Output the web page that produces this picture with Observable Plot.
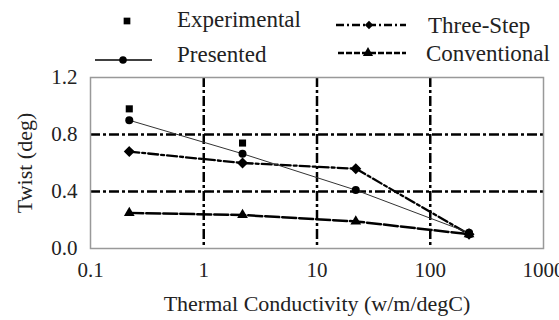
<!DOCTYPE html>
<html><head><meta charset="utf-8">
<script src="https://cdn.jsdelivr.net/npm/d3@7"></script>
<script src="https://cdn.jsdelivr.net/npm/@observablehq/plot@0.6"></script>
<style>
body{margin:0;background:#fff;}
#wrap{position:relative;width:559px;height:320px;}
#legend{position:absolute;left:0;top:0;}
</style></head><body>
<div id="wrap"><div id="chart"></div><svg id="legend" width="559" height="70"></svg></div>
<script>
const FONT = "Liberation Serif";
const conductivity = [0.22, 2.2, 22, 220];
const expConductivity = [0.22, 2.2, 220];
const experimental = [0.98, 0.74, 0.10];
const presented = [0.90, 0.665, 0.41, 0.11];
const threeStep = [0.68, 0.60, 0.56, 0.10];
const conventional = [0.25, 0.235, 0.19, 0.10];
const xTicks = [0.1, 1, 10, 100, 1000];
const yTicks = [0, 0.4, 0.8, 1.2];
const xGrid = [1, 10, 100];
const yGrid = [0.4, 0.8];
const seriesNames = ["Experimental", "Three-Step", "Presented", "Conventional"];

const mk = (vals, xs) => vals.map((v, i) => ({x: xs[i], y: v}));
const exp = mk(experimental, expConductivity);
const pre = mk(presented, conductivity);
const thr = mk(threeStep, conductivity);
const con = mk(conventional, conductivity);

const chart = Plot.plot({
  width: 559, height: 320,
  marginLeft: 90, marginRight: 16, marginTop: 77, marginBottom: 72,
  style: {fontFamily: FONT, fontSize: "21px", color: "#222", background: "#fff"},
  x: {type: "log", domain: [0.1, 1000]},
  y: {domain: [0, 1.2]},
  marks: [
    Plot.ruleX(xGrid, {stroke: "#000", strokeWidth: 2.5, strokeDasharray: "10,3,3,3"}),
    Plot.ruleY(yGrid, {stroke: "#000", strokeWidth: 2.5, strokeDasharray: "10,3,3,3"}),
    Plot.frame({stroke: "#999", strokeWidth: 1.5}),
    Plot.axisX({ticks: xTicks, tickFormat: d => String(d), tickSize: 0, tickPadding: 14, label: null, fontSize: 21, fontFamily: FONT}),
    Plot.axisY({ticks: yTicks, tickFormat: d => d.toFixed(1), tickSize: 0, tickPadding: 13, label: null, fontSize: 21, fontFamily: FONT}),
    Plot.text(["Thermal Conductivity (w/m/degC)"], {frameAnchor: "bottom", lineAnchor: "middle", textAnchor: "middle", dy: 55, fontSize: 22, fill: "#222", fontFamily: FONT}),
    Plot.text(["Twist (deg)"], {frameAnchor: "left", lineAnchor: "middle", textAnchor: "middle", rotate: -90, dx: -66, fontSize: 22, fill: "#222", fontFamily: FONT}),
    Plot.line(con, {x: "x", y: "y", stroke: "#000", strokeWidth: 2.5, strokeDasharray: "14,3"}),
    Plot.dot(con, {x: "x", y: "y", symbol: "triangle", r: 4, fill: "#000"}),
    Plot.line(thr, {x: "x", y: "y", stroke: "#000", strokeWidth: 2.3, strokeDasharray: "10,3,3,3"}),
    Plot.dot(thr, {x: "x", y: "y", symbol: "diamond2", r: 4, fill: "#000", stroke: "#000"}),
    Plot.line(pre, {x: "x", y: "y", stroke: "#333", strokeWidth: 1}),
    Plot.dot(pre, {x: "x", y: "y", r: 4, fill: "#000"}),
    Plot.dot(exp, {x: "x", y: "y", symbol: "square", r: 4, fill: "#000"})
  ]
});
document.getElementById("chart").appendChild(chart);

// Legend (layout only; labels from seriesNames)
const lg = d3.select("#legend");
const items = [
  {label: seriesNames[0], lx: 127, ly: 21, x1: null, tx: 177, ty: 27, sym: "square"},
  {label: seriesNames[1], lx: 369, ly: 25, x1: 336, x2: 406, tx: 428, ty: 33, sym: "diamond", dash: "8,3,2,3", w: 2.5},
  {label: seriesNames[2], lx: 123, ly: 60, x1: 95, x2: 152, tx: 177, ty: 62, sym: "circle", w: 1.3},
  {label: seriesNames[3], lx: 368, ly: 53, x1: 338, x2: 406, tx: 426, ty: 61, sym: "triangle", dash: "6,2", w: 2.5}
];
for (const it of items) {
  if (it.x1 != null) {
    lg.append("line").attr("x1", it.x1).attr("x2", it.x2).attr("y1", it.ly).attr("y2", it.ly)
      .attr("stroke", "#000").attr("stroke-width", it.w)
      .attr("stroke-dasharray", it.dash || null);
  }
  const symType = {square: d3.symbolSquare, diamond: d3.symbolDiamond2, circle: d3.symbolCircle, triangle: d3.symbolTriangle}[it.sym];
  lg.append("path").attr("d", d3.symbol(symType, 45)()).attr("transform", `translate(${it.lx},${it.ly})`).attr("fill", "#000");
  lg.append("text").attr("x", it.tx).attr("y", it.ty)
    .attr("font-family", FONT).attr("font-size", 23).attr("fill", "#222").text(it.label);
}
</script>
</body></html>
